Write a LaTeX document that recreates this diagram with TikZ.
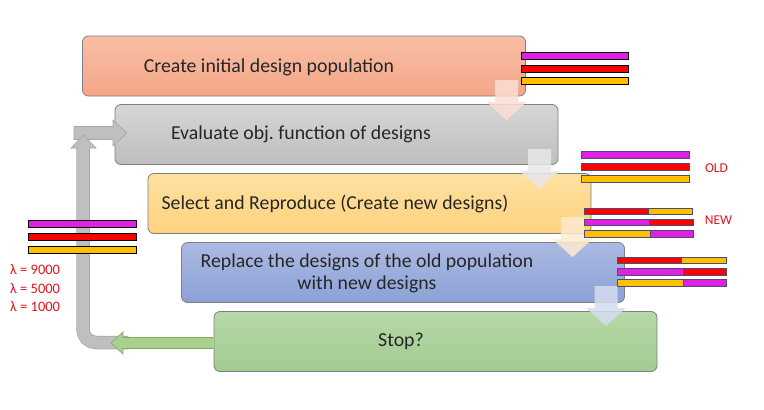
\documentclass[tikz,border=0pt]{standalone}
\usepackage{fontspec}
\setmainfont{Carlito}
\frenchspacing
\definecolor{bmag}{HTML}{E31FE3}
\definecolor{bred}{HTML}{FF0000}
\definecolor{bora}{HTML}{FFC000}
\definecolor{lblred}{HTML}{E0161E}
\definecolor{boxline}{HTML}{7F7F7F}
\begin{document}
\begin{tikzpicture}[x=1pt,y=-1pt,
  flowbox/.style={draw=boxline, line width=0.8pt, rounded corners=6pt,
    minimum width=443pt, minimum height=60pt, inner sep=0pt},
  boxtext/.style={font=\fontsize{19.8}{21.5}\selectfont, text=black!85, inner sep=0pt, align=center},
  lbl/.style={font=\fontsize{13.5}{16}\selectfont, text=lblred, inner sep=0pt},
  lamlbl/.style={font=\fontsize{14.5}{16}\selectfont, text=lblred, inner sep=0pt, anchor=west},
  barblack/.style={draw=black, line width=0.7pt},
  bargray/.style={draw=black!60!blue!40!gray, line width=0.7pt},
  loopfill/.style={fill=black!25, draw=black!35, line width=0.6pt},
]
\useasboundingbox (0,0) rectangle (764,410);
\fill[white] (0,0) rectangle (764,410);

% boxes
\node[flowbox, top color={rgb,255:red,249;green,190;blue,166}, bottom color={rgb,255:red,244;green,166;blue,134}] (create) at (304,66) {};
\node[flowbox, top color={rgb,255:red,214;green,214;blue,214}, bottom color={rgb,255:red,190;green,190;blue,190}] (eval) at (336.5,134.5) {};
\node[flowbox, top color={rgb,255:red,255;green,225;blue,160}, bottom color={rgb,255:red,255;green,210;blue,128}] (select) at (369.5,203.5) {};
\node[flowbox, top color={rgb,255:red,172;green,186;blue,226}, bottom color={rgb,255:red,139;green,161;blue,214}] (replace) at (403,272.5) {};
\node[flowbox, top color={rgb,255:red,183;green,216;blue,168}, bottom color={rgb,255:red,162;green,204;blue,145}] (stop) at (435.5,341.5) {};

% texts
\node[boxtext] (tcreate) at (269,67) {Create initial design population};
\node[boxtext] (teval) at (301,134) {Evaluate obj. function of designs};
\node[boxtext] (tselect) at (335,204) {Select and Reproduce (Create new designs)};
\node[boxtext] (treplace) at (367,273.5) {Replace the designs of the old population\\with new designs};
\node[boxtext] (tstop) at (401,341) {Stop?};

% down block arrows (semi-transparent)
\foreach \cx/\ty/\col in {506.5/80/{rgb,255:red,251;green,222;blue,212}, 539.5/149/{rgb,255:red,232;green,232;blue,232}, 572.5/217/{rgb,255:red,252;green,234;blue,206}, 606/286/{rgb,255:red,214;green,220;blue,240}}{
  \fill[fill=\col, opacity=0.85]
    (\cx-11.5,\ty) -- (\cx+11.5,\ty) -- (\cx+11.5,\ty+22) -- (\cx+20,\ty+22)
    -- (\cx,\ty+40) -- (\cx-20,\ty+22) -- (\cx-11.5,\ty+22) -- cycle;
}

% gray loop
\draw[line width=13.5pt, black!35, rounded corners=13pt] (83,146) -- (83,342.5) -- (128,342.5);
\draw[line width=12pt, black!25, rounded corners=12.5pt] (83,146) -- (83,342.5) -- (129,342.5);
% horizontal arrow into eval box
\filldraw[loopfill] (74,126.5) -- (113,126.5) -- (113,120) -- (127,133) -- (113,146) -- (113,139.5) -- (74,139.5) -- cycle;
% vertical arrowhead
\filldraw[loopfill] (71,148) -- (83.5,135) -- (96,148) -- cycle;
\fill[black!25] (77.5,147) rectangle (89,150);

% green arrow from stop box
\filldraw[fill={rgb,255:red,169;green,209;blue,142}, draw={rgb,255:red,128;green,175;blue,100}, line width=0.7pt]
  (stop.west |- 0,337.5) -- (123,337.5) -- (123,332) -- (111,343) -- (123,354) -- (123,348.5) -- (stop.west |- 0,348.5);

% bars: top group
\filldraw[barblack, fill=bmag] (521,52) rectangle (628,59);
\filldraw[barblack, fill=bred] (521,65) rectangle (628,72);
\filldraw[barblack, fill=bora] (521,77) rectangle (628,84);
% OLD group
\filldraw[bargray, fill=bmag] (581,151) rectangle (689,158);
\filldraw[bargray, fill=bred] (581,163) rectangle (689,170);
\filldraw[bargray, fill=bora] (581,175) rectangle (689,182);
% NEW group
\fill[bred] (584,208) rectangle (648,214); \fill[bora] (648,208) rectangle (692,214);
\draw[bargray] (584,208) rectangle (692,214); \draw[bargray] (648,208) -- (648,214);
\fill[bmag] (584,219) rectangle (649,225); \fill[bred] (649,219) rectangle (693,225);
\draw[bargray] (584,219) rectangle (693,225); \draw[bargray] (649,219) -- (649,225);
\fill[bora] (584,230) rectangle (650,237); \fill[bmag] (650,230) rectangle (693,237);
\draw[bargray] (584,230) rectangle (693,237); \draw[bargray] (650,230) -- (650,237);
% group near replace
\fill[bred] (617,257) rectangle (681,263); \fill[bora] (681,257) rectangle (726,263);
\draw[bargray] (617,257) rectangle (726,263); \draw[bargray] (681,257) -- (681,263);
\fill[bmag] (617,268) rectangle (683,275); \fill[bred] (683,268) rectangle (726,275);
\draw[bargray] (617,268) rectangle (726,275); \draw[bargray] (683,268) -- (683,275);
\fill[bora] (617,279) rectangle (683,286); \fill[bmag] (683,279) rectangle (726,286);
\draw[bargray] (617,279) rectangle (726,286); \draw[bargray] (683,279) -- (683,286);
% left group
\filldraw[barblack, fill=bmag] (28,220) rectangle (136,227);
\filldraw[barblack, fill=bred] (28,233) rectangle (136,240);
\filldraw[barblack, fill=bora] (28,246) rectangle (136,253);

% labels
\node[lbl] (old) at (716.5,168) {OLD};
\node[lbl] (new) at (718.5,220) {NEW};
\node[lamlbl] (l1) at (10,270) {λ = 9000};
\node[lamlbl] (l2) at (10,288.5) {λ = 5000};
\node[lamlbl] (l3) at (10,307) {λ = 1000};
\end{tikzpicture}
\end{document}
